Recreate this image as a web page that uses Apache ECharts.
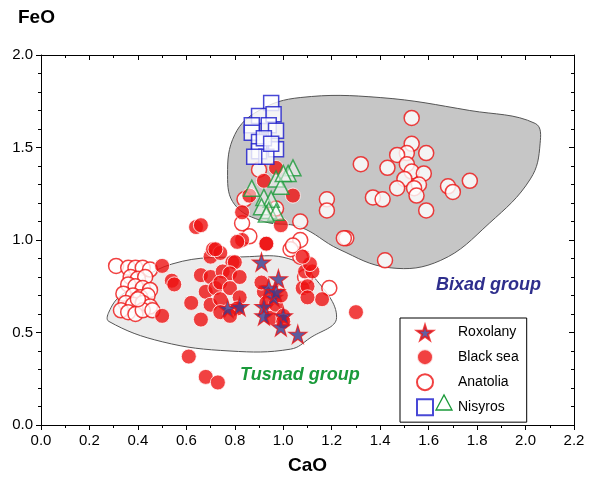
<!DOCTYPE html>
<html><head><meta charset="utf-8">
<script src="https://cdn.jsdelivr.net/npm/echarts@6/dist/echarts.min.js"></script>
<style>html,body{margin:0;background:#fff}#c{width:599px;height:480px}</style>
</head><body><div id="c"></div>
<script>
// group outlines (CaO, FeO)
var bixadPoly = [[0.77,1.35],[0.80,1.57],[0.90,1.70],[1.07,1.77],[1.40,1.77],[1.77,1.70],[2.04,1.63],[2.06,1.52],[2.02,1.33],[1.85,1.09],[1.65,0.89],[1.44,0.85],[1.23,0.95],[1.07,1.07],[0.92,1.10],[0.80,1.19]];
var tusnadPoly = [[0.54,0.87],[0.86,0.91],[1.02,0.90],[1.12,0.81],[1.22,0.58],[1.11,0.47],[1.03,0.41],[0.78,0.40],[0.50,0.45],[0.28,0.56],[0.28,0.61],[0.33,0.70]];

var anatolia = [[0.31,0.86],[0.36,0.85],[0.39,0.85],[0.42,0.85],[0.45,0.84],[0.37,0.80],[0.40,0.79],[0.43,0.80],[0.36,0.76],[0.39,0.75],[0.42,0.74],[0.45,0.73],[0.34,0.71],[0.38,0.70],[0.41,0.69],[0.44,0.70],[0.35,0.66],[0.38,0.65],[0.42,0.66],[0.45,0.64],[0.33,0.62],[0.36,0.61],[0.39,0.60],[0.42,0.62],[0.46,0.62],[0.40,0.68],
  [1.53,1.66],[1.53,1.52],[1.51,1.47],[1.47,1.46],[1.59,1.47],[1.32,1.41],[1.43,1.39],[1.51,1.41],[1.53,1.37],[1.58,1.36],[1.50,1.33],[1.56,1.30],[1.47,1.28],[1.54,1.28],[1.55,1.24],[1.68,1.29],[1.70,1.26],[1.77,1.32],[1.37,1.23],[1.41,1.22],[1.59,1.16],[1.18,1.22],[1.18,1.16],[1.26,1.01],[1.42,0.89],
  [1.07,1.10],[1.07,1.00],[1.07,0.91],[1.19,0.74],[1.03,0.95],[0.97,1.17],[0.83,1.09],[0.86,1.02],[0.84,1.22],[1.25,1.01],[1.04,0.97],[1.09,0.80],[0.90,1.38]];
var blackSea = [[0.50,0.86],[0.54,0.78],[0.55,0.76],[0.62,0.66],[0.50,0.59],[0.66,0.57],[0.61,0.37],[0.68,0.26],[0.73,0.23],
  [0.70,0.91],[0.71,0.95],[0.74,0.93],[0.79,0.88],[0.80,0.88],[0.66,0.81],[0.70,0.80],[0.75,0.83],[0.78,0.82],[0.82,0.80],[0.68,0.72],[0.72,0.74],[0.74,0.77],[0.78,0.74],[0.70,0.65],[0.74,0.68],[0.82,0.69],[0.74,0.61],[0.81,0.63],[0.78,0.59],
  [0.92,0.72],[0.93,0.66],[0.95,0.58],[0.97,0.65],[0.99,0.70],[1.00,0.59],[1.00,0.56],[0.91,0.77],[0.93,0.98],[0.83,1.00],
  [1.08,0.74],[1.09,0.83],[1.12,0.83],[1.11,0.87],[1.08,0.91],[1.10,0.75],[1.16,0.68],[1.10,0.69],[1.30,0.61],[0.64,1.07],
  [0.97,1.39],[0.92,1.32],[0.86,1.24],[1.04,1.24],[0.83,1.15],[0.99,1.08],[0.66,1.08],[0.81,0.99],[0.93,0.98],[0.72,0.95]];
var roxolany = [[0.91,0.88],[0.98,0.79],[0.94,0.74],[0.96,0.69],[0.92,0.64],[0.92,0.59],[1.00,0.59],[0.99,0.53],[1.06,0.49],[0.77,0.63],[0.82,0.64],[0.97,0.72]];
var nisyrosSq = [[0.95,1.74],[0.90,1.67],[0.96,1.68],[0.87,1.62],[0.94,1.62],[0.87,1.58],[0.97,1.59],[0.90,1.53],[0.97,1.49],[0.90,1.48],[0.93,1.45],[0.88,1.45],[0.92,1.55],[0.95,1.52]];
var nisyrosTri = [[1.04,1.39],[1.02,1.36],[0.97,1.33],[0.87,1.28],[0.99,1.29],[0.92,1.23],[0.95,1.22],[0.91,1.18],[0.94,1.16],[0.97,1.15],[0.93,1.14],[1.00,1.36]];

var star = 'path://M50,0 L61,35 L98,35 L68,57 L79,91 L50,70 L21,91 L32,57 L2,35 L39,35 Z';

function polySeries(pts, fill) {
  return {
    type: 'custom', silent: true, z: 1,
    data: [0],
    renderItem: function (params, api) {
      return {
        type: 'polygon',
        shape: { points: pts.map(function (p) { return api.coord(p); }), smooth: 0.4 },
        style: { fill: fill, stroke: '#555', lineWidth: 1 }
      };
    }
  };
}

var tickStyle = { color: '#000' };
function axisBase(extra) {
  var a = {
    type: 'value',
    axisLine: { onZero: false, lineStyle: tickStyle },
    axisTick: { length: 5, lineStyle: tickStyle },
    minorTick: { show: true, length: 3, lineStyle: tickStyle },
    axisLabel: { color: '#000', fontSize: 15, fontFamily: 'Arial', formatter: function (v) { return v.toFixed(1); } },
    splitLine: { show: false }
  };
  for (var k in extra) a[k] = extra[k];
  return a;
}

var chart = echarts.init(document.getElementById('c'));
chart.setOption({
  animation: false,
  grid: { left: 41, right: 25, top: 55, bottom: 53 },
  xAxis: [
    axisBase({ min: 0, max: 2.2, interval: 0.2, name: 'CaO', nameLocation: 'middle', nameGap: 31,
      nameTextStyle: { fontSize: 19, fontWeight: 'bold', color: '#000', fontFamily: 'Arial' },
      minorTick: { show: true, splitNumber: 2, length: 3, lineStyle: tickStyle } }),
    axisBase({ position: 'top', min: 0, max: 2.2, interval: 0.2, axisLabel: { show: false },
      axisTick: { inside: true, length: 5, lineStyle: tickStyle },
      minorTick: { show: true, splitNumber: 2, length: 3, lineStyle: tickStyle } })
  ],
  yAxis: [
    axisBase({ min: 0, max: 2.0, interval: 0.5, minorTick: { show: true, splitNumber: 5, length: 3, lineStyle: tickStyle } }),
    axisBase({ position: 'right', min: 0, max: 2.0, interval: 0.5, axisLabel: { show: false },
      axisTick: { inside: true, length: 5, lineStyle: tickStyle },
      minorTick: { show: true, splitNumber: 5, length: 3, lineStyle: tickStyle } })
  ],
  legend: {
    orient: 'vertical', left: 400, top: 318, itemGap: 7,
    padding: [6, 8, 6, 16], borderColor: '#000', borderWidth: 1, backgroundColor: '#fff',
    itemWidth: 16, itemHeight: 16,
    textStyle: { fontSize: 14, color: '#000', fontFamily: 'Arial', padding: [0, 0, 0, 20] },
    data: ['Roxolany', 'Black sea', 'Anatolia', 'Nisyros']
  },
  graphic: [
    { type: 'text', left: 18, top: 8, style: { text: 'FeO', font: 'bold 19px Arial', fill: '#000' } },
    { type: 'text', left: 436, top: 276, style: { text: 'Bixad group', font: 'italic bold 18px Arial', fill: '#2e2e8c' } },
    { type: 'text', left: 240, top: 366, style: { text: 'Tusnad group', font: 'italic bold 18px Arial', fill: '#1a9a3a' } },
    { type: 'polygon', z: 200, shape: { points: [[436, 410], [444, 395], [452, 410]] }, style: { fill: '#fff', stroke: '#1a9a3a', lineWidth: 1.3 } }
  ],
  series: [
    polySeries(bixadPoly, '#c6c6c6'),
    polySeries(tusnadPoly, '#ebebeb'),
    { name: 'Anatolia', type: 'scatter', z: 3, symbol: 'circle', symbolSize: 15, data: anatolia,
      itemStyle: { color: '#fff', borderColor: '#ee1111', borderWidth: 1.5 } },
    { name: 'Black sea', type: 'scatter', z: 4, symbol: 'circle', symbolSize: 15, data: blackSea,
      itemStyle: { color: '#ee1111', borderColor: '#fff', borderWidth: 1 } },
    { name: 'Nisyros', type: 'scatter', z: 5, symbol: 'rect', symbolSize: 15, data: nisyrosSq,
      itemStyle: { color: '#fff', borderColor: '#1a1acc', borderWidth: 1.5 } },
    { name: 'NisyrosTri', type: 'scatter', z: 5, symbol: 'triangle', symbolSize: 16, data: nisyrosTri,
      itemStyle: { color: 'rgba(255,255,255,0.6)', borderColor: '#1a9a3a', borderWidth: 1.5 } },
    { name: 'Roxolany', type: 'scatter', z: 6, symbol: star, symbolSize: 18, data: roxolany,
      itemStyle: { color: '#3a3a8c', borderColor: '#ee1111', borderWidth: 1.2 } }
  ]
});
</script></body></html>
